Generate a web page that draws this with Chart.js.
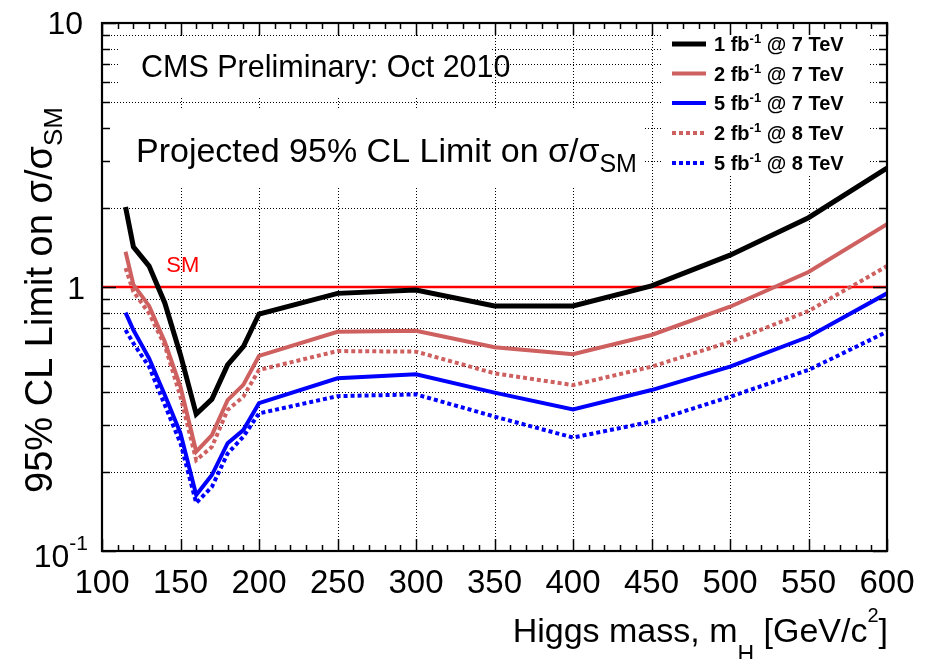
<!DOCTYPE html>
<html>
<head>
<meta charset="utf-8">
<script src="https://cdn.jsdelivr.net/npm/chart.js@4.4.1/dist/chart.umd.min.js"></script>
<style>
  html, body { margin: 0; padding: 0; background: #fff; }
  canvas { display: block; }
</style>
</head>
<body>
<canvas id="limits" width="934" height="659"></canvas>
<script>
// === Data ===
const massGeV = [115, 120, 130, 140, 150, 160, 170, 180, 190, 200, 250, 300, 350, 400, 450, 500, 550, 600];
const lim1fb7TeV = [2.01, 1.42, 1.20, 0.87, 0.553, 0.33, 0.376, 0.507, 0.594, 0.79, 0.946, 0.974, 0.848, 0.848, 1.01, 1.32, 1.83, 2.82];
const lim2fb7TeV = [1.36, 1.02, 0.848, 0.62, 0.419, 0.238, 0.275, 0.373, 0.426, 0.548, 0.677, 0.683, 0.591, 0.556, 0.658, 0.842, 1.14, 1.73];
const lim5fb7TeV = [0.80, 0.687, 0.537, 0.39, 0.279, 0.163, 0.194, 0.256, 0.287, 0.363, 0.451, 0.467, 0.398, 0.344, 0.407, 0.499, 0.648, 0.946];
const lim2fb8TeV = [1.18, 0.96, 0.795, 0.60, 0.384, 0.221, 0.248, 0.342, 0.384, 0.485, 0.572, 0.569, 0.471, 0.425, 0.499, 0.62, 0.811, 1.20];
const lim5fb8TeV = [0.687, 0.612, 0.499, 0.357, 0.256, 0.152, 0.175, 0.234, 0.271, 0.332, 0.386, 0.392, 0.323, 0.269, 0.309, 0.384, 0.485, 0.677];
const smMass = [100, 600];
const smLevel = [1, 1];

const lumiLabels = ['1', '2', '5', '2', '5'];
const energyLabels = ['7', '7', '7', '8', '8'];
const xTickValues = [100, 150, 200, 250, 300, 350, 400, 450, 500, 550, 600];
const xGridValues = [150, 200, 250, 300, 350, 400, 450, 500, 550];
const yGridValues = [0.2, 0.3, 0.4, 0.5, 0.6, 0.7, 0.8, 0.9, 2, 3, 4, 5, 6, 7, 8, 9];

const FONT = "'Liberation Sans', Arial, Helvetica, sans-serif";
const RED = 'rgb(206,96,96)';
const BLUE = '#0000ff';

// white TPave-like boxes that hide the grid behind the texts
const paves = [
  { x: 120, y: 38, w: 370, h: 59 },
  { x: 108, y: 110, w: 537, h: 76 },
  { x: 663, y: 26, w: 205, h: 150 }
];

const pts = ys => massGeV.map((m, i) => ({ x: m, y: ys[i] }));

// === rich text: [{t, size, dy, bold}] ===
function drawRich(ctx, parts, x, y, align) {
  let total = 0;
  parts.forEach(p => {
    ctx.font = `${p.bold ? 'bold ' : ''}${p.size}px ${FONT}`;
    p.w = ctx.measureText(p.t).width;
    total += p.w;
  });
  let cx = align === 'right' ? x - total : align === 'center' ? x - total / 2 : x;
  parts.forEach(p => {
    ctx.font = `${p.bold ? 'bold ' : ''}${p.size}px ${FONT}`;
    ctx.fillText(p.t, cx, y + (p.dy || 0));
    cx += p.w;
  });
}

// === ROOT style frame, grid, labels ===
const rootFrame = {
  id: 'rootFrame',
  beforeDatasetsDraw(chart) {
    const { ctx, chartArea: a, scales: { x, y } } = chart;
    ctx.save();
    ctx.strokeStyle = '#000';
    ctx.lineWidth = 1;
    ctx.setLineDash([1, 2]);
    ctx.beginPath();
    xGridValues.forEach(v => {
      const px = Math.round(x.getPixelForValue(v)) + 0.5;
      ctx.moveTo(px, a.top); ctx.lineTo(px, a.bottom);
    });
    yGridValues.forEach(v => {
      const py = Math.round(y.getPixelForValue(v)) + 0.5;
      ctx.moveTo(a.left, py); ctx.lineTo(a.right, py);
    });
    ctx.stroke();
    ctx.setLineDash([]);
    ctx.fillStyle = '#fff';
    paves.forEach(b => ctx.fillRect(b.x, b.y, b.w, b.h));
    ctx.restore();
  },
  afterDatasetsDraw(chart) {
    const { ctx, chartArea: a, scales: { x, y } } = chart;
    ctx.save();
    ctx.strokeStyle = '#000';
    ctx.lineWidth = 1.5;
    ctx.beginPath();
    for (let v = 100; v <= 600; v += 10) {
      const px = Math.round(x.getPixelForValue(v)) + 0.5;
      const len = v % 50 === 0 ? 12 : 6;
      ctx.moveTo(px, a.bottom); ctx.lineTo(px, a.bottom - len);
      ctx.moveTo(px, a.top); ctx.lineTo(px, a.top + len);
    }
    [0.1, 1, 10].forEach(d => {
      for (let k = 1; k <= 9; k++) {
        const v = d * k;
        if (v > 10.001) break;
        const py = Math.round(y.getPixelForValue(v)) + 0.5;
        const len = k === 1 ? 14 : 8;
        ctx.moveTo(a.left, py); ctx.lineTo(a.left + len, py);
        ctx.moveTo(a.right, py); ctx.lineTo(a.right - len, py);
      }
    });
    ctx.stroke();
    ctx.lineWidth = 2.2;
    ctx.strokeRect(a.left, a.top, a.right - a.left, a.bottom - a.top);
    ctx.restore();
  },
  afterDraw(chart) {
    const { ctx, scales: { x, y } } = chart;
    ctx.save();
    ctx.fillStyle = '#000';
    ctx.textBaseline = 'alphabetic';

    // x tick labels
    ctx.font = `33px ${FONT}`;
    ctx.textAlign = 'center';
    xTickValues.forEach(v => ctx.fillText(String(v), x.getPixelForValue(v), 593));

    // y tick labels
    ctx.textAlign = 'left';
    drawRich(ctx, [{ t: '10', size: 32 }], 83, y.getPixelForValue(10) + 11, 'right');
    drawRich(ctx, [{ t: '1', size: 32 }], 85, y.getPixelForValue(1) + 11.5, 'right');
    drawRich(ctx, [{ t: '10', size: 32 }, { t: '-1', size: 21, dy: -17 }], 88, y.getPixelForValue(0.1) + 16, 'right');

    // axis titles
    drawRich(ctx, [
      { t: 'Higgs mass, m', size: 34 },
      { t: 'H', size: 23, dy: 20 },
      { t: ' [GeV/c', size: 34 },
      { t: '2', size: 20, dy: -20 },
      { t: ']', size: 34 }
    ], 888, 642, 'right');

    ctx.save();
    ctx.translate(52, 300);
    ctx.rotate(-Math.PI / 2);
    drawRich(ctx, [
      { t: '95% CL Limit on σ/σ', size: 38 },
      { t: 'SM', size: 26, dy: 10 }
    ], 0, 0, 'center');
    ctx.restore();

    // texts
    drawRich(ctx, [{ t: 'CMS Preliminary: Oct 2010', size: 30.5 }], 141, 77, 'left');
    drawRich(ctx, [
      { t: 'Projected 95% CL Limit on σ/σ', size: 34 },
      { t: 'SM', size: 25, dy: 10 }
    ], 136, 162, 'left');

    ctx.fillStyle = '#ff0000';
    drawRich(ctx, [{ t: 'SM', size: 22 }], x.getPixelForValue(141), y.getPixelForValue(1) - 15, 'left');

    // legend
    const legendY = [44, 73.5, 103, 133, 163];
    chart.data.datasets.slice(0, 5).forEach((ds, i) => {
      const ly = legendY[i];
      ctx.strokeStyle = ds.borderColor;
      ctx.lineWidth = ds.borderWidth;
      ctx.setLineDash(ds.borderDash || []);
      ctx.beginPath();
      ctx.moveTo(672, ly); ctx.lineTo(706, ly);
      ctx.stroke();
      ctx.setLineDash([]);
      ctx.fillStyle = '#000';
      drawRich(ctx, [
        { t: lumiLabels[i] + ' fb', size: 20, bold: true },
        { t: '-1', size: 13, dy: -8, bold: true },
        { t: ' @ ' + energyLabels[i] + ' TeV', size: 20, bold: true }
      ], 714, ly + 7, 'left');
    });
    ctx.restore();
  }
};

// === Chart ===
const lineDs = (label, ys, color, width, dash) => ({
  label,
  data: pts(ys),
  borderColor: color,
  borderWidth: width,
  borderDash: dash,
  borderCapStyle: 'butt',
  borderJoinStyle: 'miter',
  pointRadius: 0,
  tension: 0,
  fill: false
});

new Chart(document.getElementById('limits'), {
  type: 'line',
  data: {
    datasets: [
      lineDs('1 fb-1 @ 7 TeV', lim1fb7TeV, '#000000', 5, []),
      lineDs('2 fb-1 @ 7 TeV', lim2fb7TeV, RED, 4, []),
      lineDs('5 fb-1 @ 7 TeV', lim5fb7TeV, BLUE, 4, []),
      lineDs('2 fb-1 @ 8 TeV', lim2fb8TeV, RED, 4, [4, 3]),
      lineDs('5 fb-1 @ 8 TeV', lim5fb8TeV, BLUE, 4, [4, 3]),
      {
        label: 'SM',
        data: smMass.map((m, i) => ({ x: m, y: smLevel[i] })),
        borderColor: '#ff0000',
        borderWidth: 2.5,
        pointRadius: 0,
        fill: false
      }
    ]
  },
  options: {
    responsive: false,
    animation: false,
    layout: { padding: { left: 102, right: 47, top: 23, bottom: 108 } },
    plugins: { legend: { display: false }, tooltip: { enabled: false } },
    scales: {
      x: { type: 'linear', min: 100, max: 600, display: false },
      y: { type: 'logarithmic', min: 0.1, max: 10, display: false }
    }
  },
  plugins: [rootFrame]
});
</script>
</body>
</html>
